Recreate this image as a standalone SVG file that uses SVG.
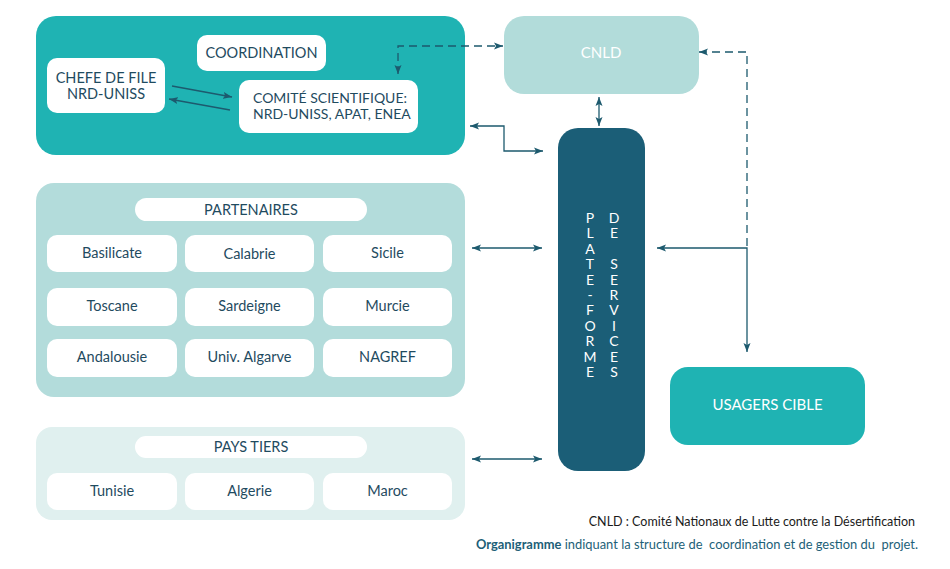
<svg xmlns="http://www.w3.org/2000/svg" width="950" height="569" viewBox="0 0 950 569">
<defs>
<marker id="ah" markerUnits="userSpaceOnUse" markerWidth="10" markerHeight="8" refX="9" refY="4" orient="auto-start-reverse">
<path d="M0,0.5 L9,4 L0,7.5 L2,4 Z" fill="#1d5a6e"/>
</marker>
<style>
.lbl{font-family:"Lato","Noto Sans","Liberation Sans",sans-serif;font-size:14.5px;fill:#1f4b5f;text-anchor:middle}
.lbs{font-family:"Lato","Noto Sans","Liberation Sans",sans-serif;font-size:14px;fill:#1f4b5f;text-anchor:start}
.wl{font-family:"Lato","Noto Sans","Liberation Sans",sans-serif;font-size:15px;fill:#ffffff;text-anchor:middle}
.cell{fill:#ffffff}
.ln{fill:none;stroke:#1d5a6e;stroke-width:1.3}
.dash{stroke-dasharray:8 5}
.vt{font-family:"Lato","Noto Sans","Liberation Sans",sans-serif;font-size:14px;fill:#ffffff;text-anchor:middle}
.foot{font-family:"Lato","Noto Sans","Liberation Sans",sans-serif;text-anchor:end}
</style>
</defs>
<rect width="950" height="569" fill="#ffffff"/>

<g id="groupe-coordination">
<rect x="36" y="16" width="429" height="139" rx="20" fill="#1fb3b3"/>
</g>
<g id="coordination">
<rect class="cell" x="197" y="35" width="129" height="36" rx="10"/>
<text class="lbl" x="261.5" y="58">COORDINATION</text>
</g>
<g id="chefe-de-file">
<rect class="cell" x="47" y="58" width="118" height="55" rx="10"/>
<text class="lbl" x="106" y="83">CHEFE DE FILE</text>
<text class="lbl" x="106" y="99">NRD-UNISS</text>
</g>
<g id="comite-scientifique">
<rect class="cell" x="239" y="80" width="179" height="53" rx="10"/>
<text class="lbs" x="253" y="103">COMITÉ SCIENTIFIQUE:</text>
<text class="lbs" x="253" y="119">NRD-UNISS, APAT, ENEA</text>
</g>

<g id="cnld">
<rect x="504" y="16" width="195" height="78" rx="20" fill="#b2dcda"/>
<text class="wl" x="601" y="58">CNLD</text>
</g>

<g id="plate-forme">
<rect x="558" y="128" width="87" height="343" rx="20" fill="#1b5e77"/>
<text class="vt" x="590" y="223">P</text>
<text class="vt" x="590" y="238.4">L</text>
<text class="vt" x="590" y="253.8">A</text>
<text class="vt" x="590" y="269.2">T</text>
<text class="vt" x="590" y="284.6">E</text>
<text class="vt" x="590" y="300">-</text>
<text class="vt" x="590" y="315.4">F</text>
<text class="vt" x="590" y="330.8">O</text>
<text class="vt" x="590" y="346.2">R</text>
<text class="vt" x="590" y="361.6">M</text>
<text class="vt" x="590" y="377">E</text>
<text class="vt" x="614" y="223">D</text>
<text class="vt" x="614" y="238.4">E</text>
<text class="vt" x="614" y="269.2">S</text>
<text class="vt" x="614" y="284.6">E</text>
<text class="vt" x="614" y="300">R</text>
<text class="vt" x="614" y="315.4">V</text>
<text class="vt" x="614" y="330.8">I</text>
<text class="vt" x="614" y="346.2">C</text>
<text class="vt" x="614" y="361.6">E</text>
<text class="vt" x="614" y="377">S</text>
</g>

<g id="usagers-cible">
<rect x="670" y="367" width="195" height="78" rx="18" fill="#1fb3b3"/>
<text class="wl" x="767.5" y="410">USAGERS CIBLE</text>
</g>

<g id="partenaires">
<rect x="36" y="183" width="429" height="214" rx="18" fill="#b3dcdb"/>
<rect class="cell" x="135" y="198" width="232" height="23" rx="11.5"/>
<text class="lbl" x="251" y="214.5">PARTENAIRES</text>
</g>
<g id="basilicate"><rect class="cell" x="47" y="235" width="130" height="37" rx="10"/><text class="lbl" x="112" y="258">Basilicate</text></g>
<g id="calabrie"><rect class="cell" x="185" y="235" width="129" height="37" rx="10"/><text class="lbl" x="249.5" y="259">Calabrie</text></g>
<g id="sicile"><rect class="cell" x="323" y="235" width="129" height="37" rx="10"/><text class="lbl" x="387.5" y="258">Sicile</text></g>
<g id="toscane"><rect class="cell" x="47" y="288" width="130" height="38" rx="10"/><text class="lbl" x="112" y="311">Toscane</text></g>
<g id="sardeigne"><rect class="cell" x="185" y="288" width="129" height="38" rx="10"/><text class="lbl" x="249.5" y="311">Sardeigne</text></g>
<g id="murcie"><rect class="cell" x="323" y="288" width="129" height="38" rx="10"/><text class="lbl" x="387.5" y="311">Murcie</text></g>
<g id="andalousie"><rect class="cell" x="47" y="339" width="130" height="38" rx="10"/><text class="lbl" x="112" y="362">Andalousie</text></g>
<g id="univ-algarve"><rect class="cell" x="185" y="339" width="129" height="38" rx="10"/><text class="lbl" x="249.5" y="362">Univ. Algarve</text></g>
<g id="nagref"><rect class="cell" x="323" y="339" width="129" height="38" rx="10"/><text class="lbl" x="387.5" y="362">NAGREF</text></g>

<g id="pays-tiers">
<rect x="36" y="427" width="429" height="93" rx="16" fill="#e0f0ef"/>
<rect class="cell" x="135" y="436" width="232" height="22" rx="11"/>
<text class="lbl" x="251" y="452">PAYS TIERS</text>
</g>
<g id="tunisie"><rect class="cell" x="47" y="473" width="130" height="37" rx="10"/><text class="lbl" x="112" y="496">Tunisie</text></g>
<g id="algerie"><rect class="cell" x="185" y="473" width="129" height="37" rx="10"/><text class="lbl" x="249.5" y="496">Algerie</text></g>
<g id="maroc"><rect class="cell" x="323" y="473" width="129" height="37" rx="10"/><text class="lbl" x="387.5" y="496">Maroc</text></g>

<g id="connectors">
<path class="ln" d="M172,86 L232,97" marker-end="url(#ah)"/>
<path class="ln" d="M230,110 L169,99" marker-end="url(#ah)"/>
<path class="ln dash" d="M398,74 V46 H503" marker-start="url(#ah)" marker-end="url(#ah)"/>
<path class="ln dash" d="M699,52 H747 V248"  marker-start="url(#ah)"/>
<path class="ln" d="M657,248 H747 V352" marker-start="url(#ah)" marker-end="url(#ah)"/>
<path class="ln" d="M599,97 V126" marker-start="url(#ah)" marker-end="url(#ah)"/>
<path class="ln" d="M470,126 H504 V151 H543" marker-start="url(#ah)" marker-end="url(#ah)"/>
<path class="ln" d="M472,248 H542" marker-start="url(#ah)" marker-end="url(#ah)"/>
<path class="ln" d="M472,459 H542" marker-start="url(#ah)" marker-end="url(#ah)"/>
</g>

<g id="legende">
<text class="foot" x="915" y="526" font-size="12.5" fill="#1a1a1a">CNLD : Comité Nationaux de Lutte contre la Désertification</text>
<text class="foot" x="918" y="549" font-size="12.9" fill="#1d5f78" xml:space="preserve"><tspan font-weight="bold">Organigramme</tspan> indiquant la structure de  coordination et de gestion du  projet.</text>
</g>
</svg>
